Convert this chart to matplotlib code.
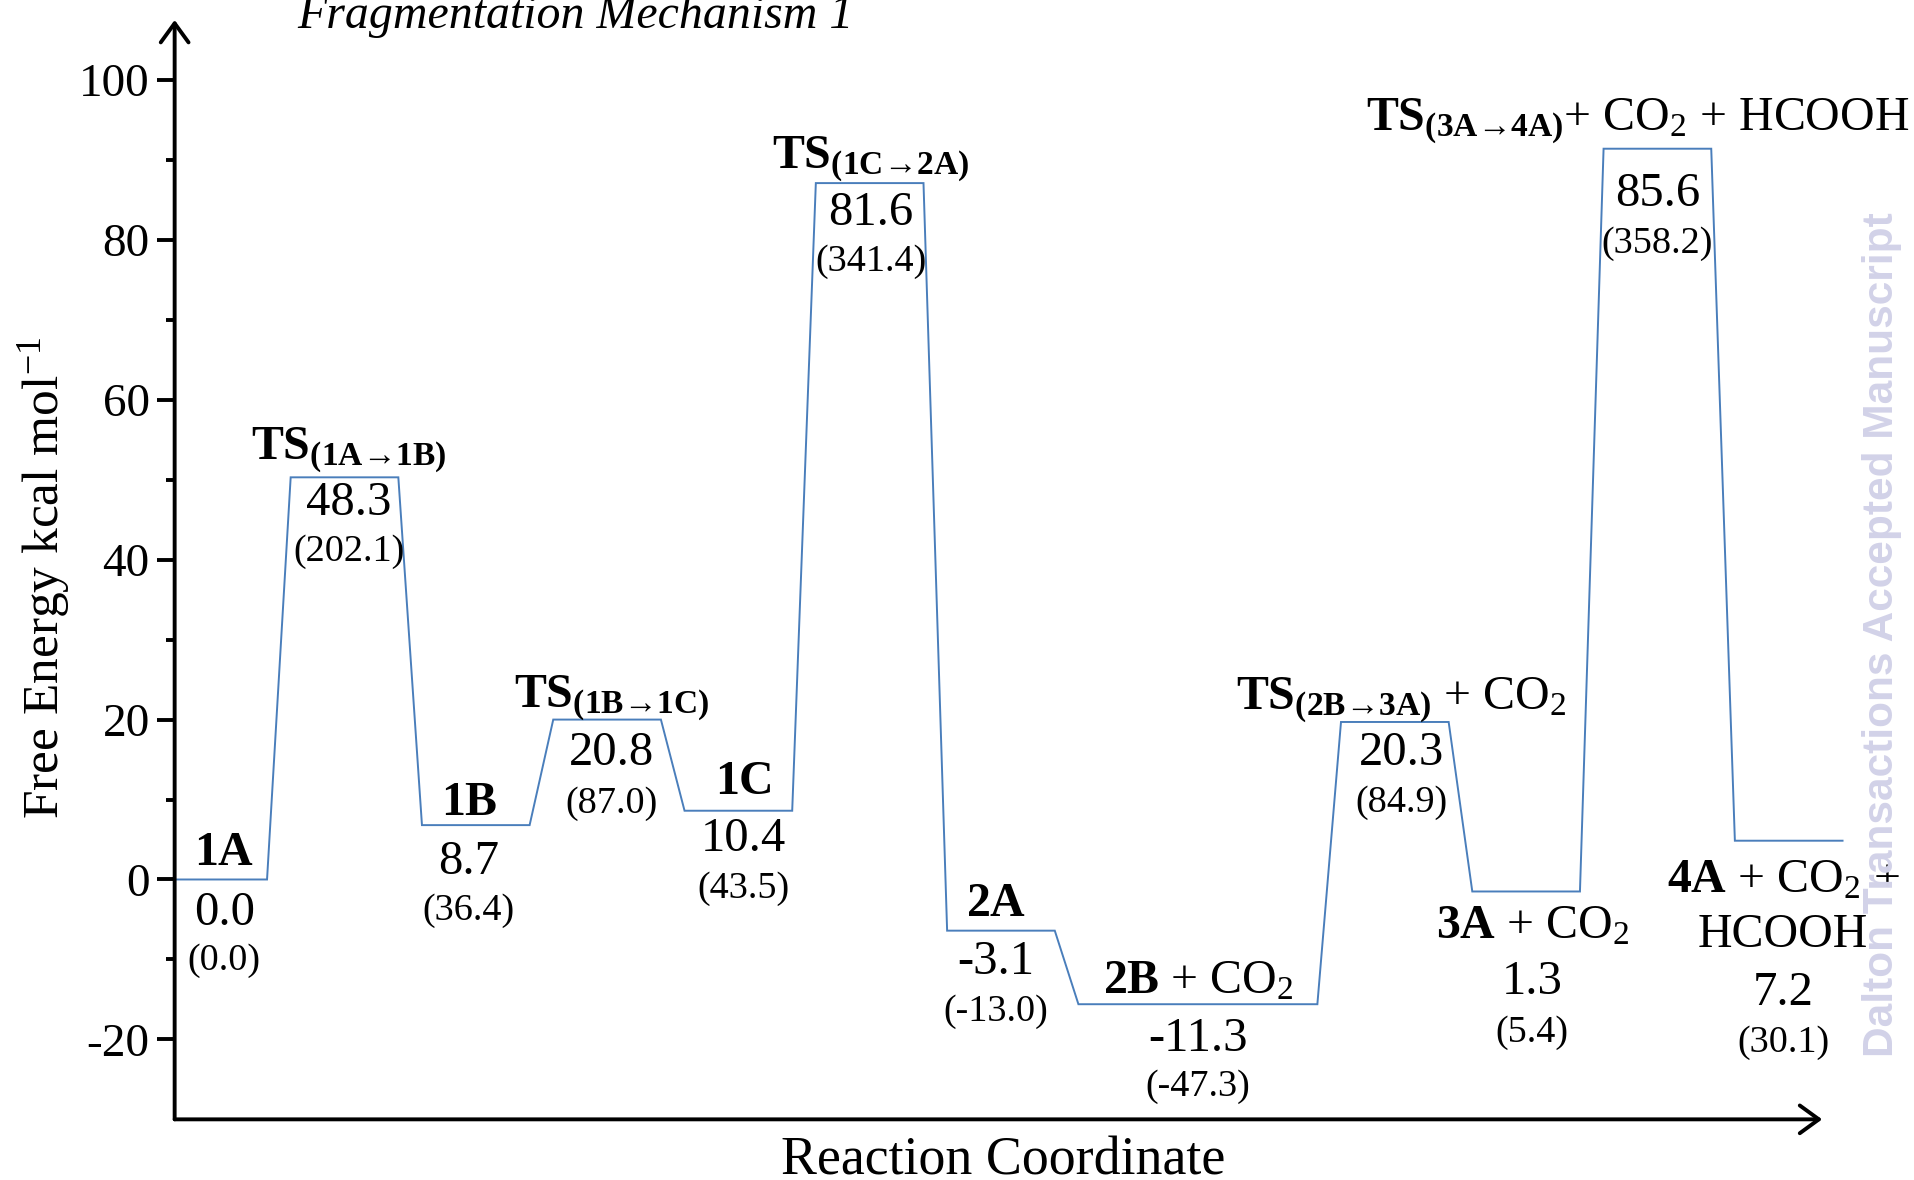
import matplotlib
matplotlib.use('Agg')
import matplotlib.pyplot as plt

plt.rcParams['font.family'] = ['Liberation Serif', 'DejaVu Serif']
plt.rcParams['mathtext.fontset'] = 'custom'
plt.rcParams['mathtext.rm'] = 'Liberation Serif'
plt.rcParams['mathtext.bf'] = 'Liberation Serif:bold'
plt.rcParams['mathtext.it'] = 'Liberation Serif:italic'
plt.rcParams['axes.unicode_minus'] = False

# ---------------- data ----------------
species = ['1A', 'TS1', '1B', 'TS2', '1C', 'TS3', '2A', '2B', 'TS4', '3A', 'TS5', '4A']
slot_start = [0, 1, 2, 3, 4, 5, 6, 7, 9, 10, 11, 12]
slot_span = [1, 1, 1, 1, 1, 1, 1, 2, 1, 1, 1, 1]
# drawn level heights
level_height = [0.0, 50.3, 6.8, 20.0, 8.6, 87.1, -6.4, -15.6, 19.7, -1.5, 91.4, 4.85]
name_labels = [r'$\mathbf{1A}$',
               r'$\mathbf{TS}_{\mathbf{(1A→1B)}}$',
               r'$\mathbf{1B}$',
               r'$\mathbf{TS}_{\mathbf{(1B→1C)}}$',
               r'$\mathbf{1C}$',
               r'$\mathbf{TS}_{\mathbf{(1C→2A)}}$',
               r'$\mathbf{2A}$',
               r'$\mathbf{2B}$ + CO$_2$',
               r'$\mathbf{TS}_{\mathbf{(2B→3A)}}$ + CO$_2$',
               r'$\mathbf{3A}$ + CO$_2$',
               r'$\mathbf{TS}_{\mathbf{(3A→4A)}}$+ CO$_2$ + HCOOH',
               r'$\mathbf{4A}$ + CO$_2$ +']
kcal_labels = ['0.0', '48.3', '8.7', '20.8', '10.4', '81.6', '-3.1', '-11.3', '20.3', '1.3', '85.6', '7.2']
kj_labels = ['(0.0)', '(202.1)', '(36.4)', '(87.0)', '(43.5)', '(341.4)', '(-13.0)', '(-47.3)',
             '(84.9)', '(5.4)', '(358.2)', '(30.1)']
yticks = [-20, 0, 20, 40, 60, 80, 100]
yminor = [-10, 10, 30, 50, 70, 90]

# ---------------- layout (offset points) ----------------
# (dx, name_dy, value_dy, paren_dy)
offsets = [(8, 10.5, -32.5, -65), (3, 13, -27, -60), (-5, 7, -35, -68.5), (3, 9, -32.5, -67),
           (3.5, 12, -29, -63), (1, 10.5, -30, -63), (-3.5, 10.5, -31.5, -65), (0, 8, -34, -66),
           (4.5, 9.5, -31, -65), (4.5, -33.5, -74, -108), (0, 13, -41, -75), (-4, -37, -118, -152)]
name_dx_extra = {10: -14}
GAP = 0.18
NAME_FS, VAL_FS, PAREN_FS = 34.5, 35, 27.5

fig = plt.figure(figsize=(19.15, 11.8), dpi=100)
ax = fig.add_axes([0.0912, 0.0514, 0.8846, 0.9486])
XL, XR = 0.1163, 13.019
ax.set_xlim(XL, XR)
ax.set_ylim(-30, 110)
for s in ax.spines.values():
    s.set_visible(False)
ax.set_xticks([])
ax.set_yticks(yticks)
ax.set_yticks(yminor, minor=True)
ax.tick_params(axis='y', which='major', direction='out', length=13, width=2.8,
               labelsize=34, pad=5)
ax.tick_params(axis='y', which='minor', direction='out', length=6.5, width=2.8)

# axes arrows
arrow_kw = dict(arrowstyle='->,head_length=0.55,head_width=0.4', lw=2.8, color='black',
                shrinkA=0, shrinkB=0, mutation_scale=25)
ax.annotate('', xy=(XL, 107.5), xytext=(XL, -30), arrowprops=arrow_kw, annotation_clip=False)
ax.annotate('', xy=(12.665, -30), xytext=(XL, -30), arrowprops=arrow_kw, annotation_clip=False)

# energy profile
xs, ys = [], []
for st, sp, h in zip(slot_start, slot_span, level_height):
    xs += [st, st + sp - GAP]
    ys += [h, h]
ax.plot(xs, ys, color='#4a7ebb', lw=1.4, solid_joinstyle='miter')

for i, (st, sp, h) in enumerate(zip(slot_start, slot_span, level_height)):
    xc = st + (sp - GAP) / 2
    dx, ndy, vdy, pdy = offsets[i]
    ax.annotate(name_labels[i], xy=(xc, h), xytext=(dx + name_dx_extra.get(i, 0), ndy),
                textcoords='offset points', ha='center', va='baseline', fontsize=NAME_FS,
                annotation_clip=False)
    if species[i] == '4A':
        ax.annotate('HCOOH', xy=(xc, h), xytext=(dx, -76.5), textcoords='offset points',
                    ha='center', va='baseline', fontsize=NAME_FS, annotation_clip=False)
    ax.annotate(kcal_labels[i], xy=(xc, h), xytext=(dx, vdy), textcoords='offset points',
                ha='center', va='baseline', fontsize=VAL_FS, annotation_clip=False)
    ax.annotate(kj_labels[i], xy=(xc, h), xytext=(dx, pdy), textcoords='offset points',
                ha='center', va='baseline', fontsize=PAREN_FS, annotation_clip=False)

fig.text(0.155, 0.976, 'Fragmentation Mechanism 1', fontsize=34.5, style='italic',
         ha='left', va='baseline')
fig.text(44 / 1915, 1 - 578 / 1180, r'Free Energy kcal mol$^{\mathregular{-1}}$', fontsize=37,
         rotation=90, ha='center', va='center')
fig.text(0.524, 0.005, 'Reaction Coordinate', fontsize=38.8, ha='center', va='baseline')
fig.text(0.983, 0.462, 'Dalton Transactions Accepted Manuscript', fontsize=30.5,
         family='Liberation Sans', weight='bold', color='#d2d2e8', rotation=90,
         ha='center', va='center')

fig.savefig('out.png', dpi=100)
